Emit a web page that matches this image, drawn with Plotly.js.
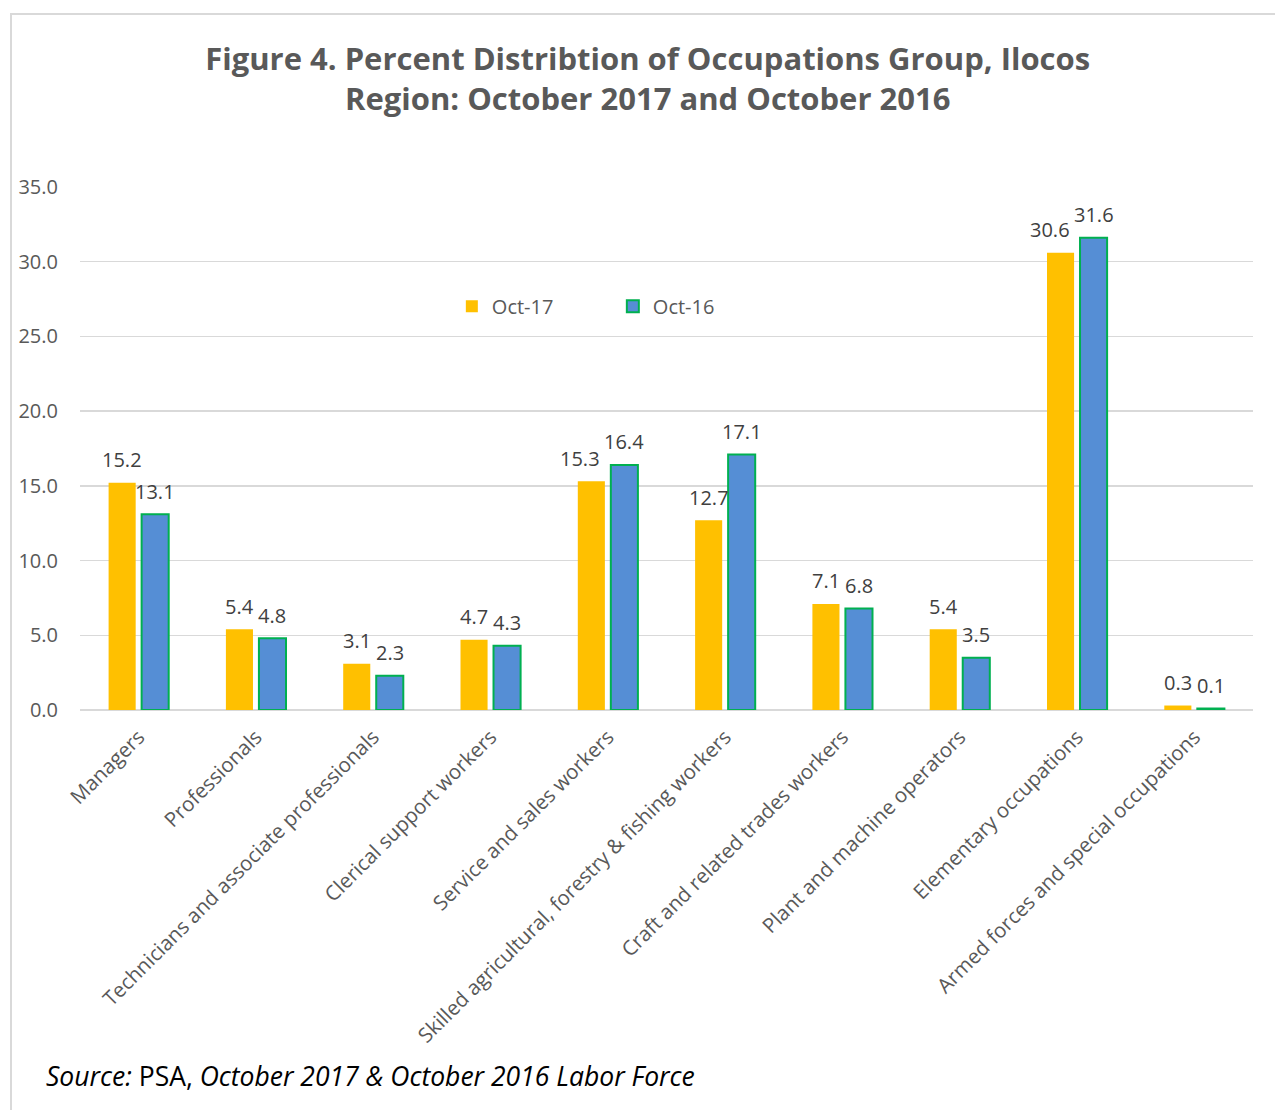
<!DOCTYPE html>
<html><head><meta charset="utf-8">
<script src="https://cdn.plot.ly/plotly-3.0.1.min.js"></script>
<style>
html,body{margin:0;padding:0;background:#fff;}
#chart{width:1275px;height:1110px;position:relative;}
#frame{position:absolute;left:10px;top:13px;width:1300px;height:1200px;border-left:2px solid #d9d9d9;border-top:2px solid #d9d9d9;pointer-events:none;}
</style></head>
<body>
<div id="chart"></div>
<div id="frame"></div>
<script>
const categories = ["Managers","Professionals","Technicians and associate professionals","Clerical support workers","Service and sales workers","Skilled agricultural, forestry & fishing workers","Craft and related trades workers","Plant and machine operators","Elementary occupations","Armed forces and special occupations"];
const oct17 = [15.2,5.4,3.1,4.7,15.3,12.7,7.1,5.4,30.6,0.3];
const oct16 = [13.1,4.8,2.3,4.3,16.4,17.1,6.8,3.5,31.6,0.1];
const seriesNames = ["Oct-17","Oct-16"];
const yTicks = [0,5,10,15,20,25,30,35];

const font = "Open Sans, Noto Sans, sans-serif";
const W = 1275, H = 1110;
const M = {l:80, r:22, t:187, b:400};
const yMax = 35;
const plotW = W - M.l - M.r, plotH = H - M.t - M.b;
const bargap = 0.437, bargroupgap = 0.18;
// half distance between the two bar centres in a group, in px
const slotPx = plotW / categories.length * (1 - bargap) / 2;
const halfSlot = slotPx / 2;
const pxPerUnit = plotH / yMax;
const labelSize = 20, charW = 10, labelGap = 23;

const traces = [
  {type:'bar', name:seriesNames[0], x:categories, y:oct17,
   marker:{color:'#FFC000', line:{color:'#FFC000', width:0}}},
  {type:'bar', name:seriesNames[1], x:categories, y:oct16,
   marker:{color:'#558ED5', line:{color:'#00B050', width:2}}}
];

// data labels, nudged sideways like Excel when two labels would collide
const annotations = [];
categories.forEach((c, i) => {
  const a = oct17[i].toFixed(1), b = oct16[i].toFixed(1);
  const wa = a.length * charW, wb = b.length * charW;
  const dyPx = Math.abs(oct17[i] - oct16[i]) * pxPerUnit;
  let shiftA = -halfSlot;
  const overlapX = (-halfSlot + wa/2) - (halfSlot - wb/2);
  if (dyPx < labelSize && overlapX > 0) shiftA -= (overlapX + 4);
  annotations.push({x:c, y:oct17[i], xref:'x', yref:'y', text:a, showarrow:false,
    xshift:shiftA, yshift:labelGap, xanchor:'center', yanchor:'middle',
    font:{family:font, size:labelSize, color:'#404040'}});
  annotations.push({x:c, y:oct16[i], xref:'x', yref:'y', text:b, showarrow:false,
    xshift:halfSlot, yshift:labelGap, xanchor:'center', yanchor:'middle',
    font:{family:font, size:labelSize, color:'#404040'}});
});
annotations.push({xref:'paper', yref:'paper', x:-0.031, y:-0.7, xanchor:'left', yanchor:'middle', showarrow:false,
  text:'<i>Source:</i> PSA, <i>October 2017 &amp; October 2016 Labor Force</i>',
  font:{family:font, size:26.5, color:'#000'}});

const layout = {
  width:W, height:H,
  margin:M,
  paper_bgcolor:'#fff', plot_bgcolor:'#fff',
  font:{family:font, color:'#595959'},
  title:{text:'<b>Figure 4. Percent Distribtion of Occupations Group, Ilocos<br>Region: October 2017 and October 2016</b>',
    font:{family:font, size:31, color:'#595959'}, x:0.508, xanchor:'center', y:0.937, yanchor:'top'},
  barmode:'group', bargap:bargap, bargroupgap:bargroupgap,
  showlegend:true,
  legend:{orientation:'h', x:0.317, xanchor:'left', y:0.772, yanchor:'middle', yref:'paper',
    font:{family:font, size:20, color:'#595959'}, itemwidth:30, tracegroupgap:0, entrywidth:116},
  xaxis:{tickangle:-45, tickfont:{family:font, size:20.5, color:'#595959'}, showline:false, ticks:'', showgrid:false, ticklabelstandoff:10},
  yaxis:{range:[0,yMax], tickvals:yTicks, ticktext:yTicks.map(v=>v.toFixed(1)),
    tickfont:{family:font, size:20, color:'#595959'}, gridcolor:'#d9d9d9', gridwidth:1.5,
    zeroline:true, zerolinecolor:'#d9d9d9', zerolinewidth:1.5, showline:false, ticklabelstandoff:21},
  annotations:annotations
};
Plotly.newPlot('chart', traces, layout, {displayModeBar:false, staticPlot:true});
</script>
</body></html>
